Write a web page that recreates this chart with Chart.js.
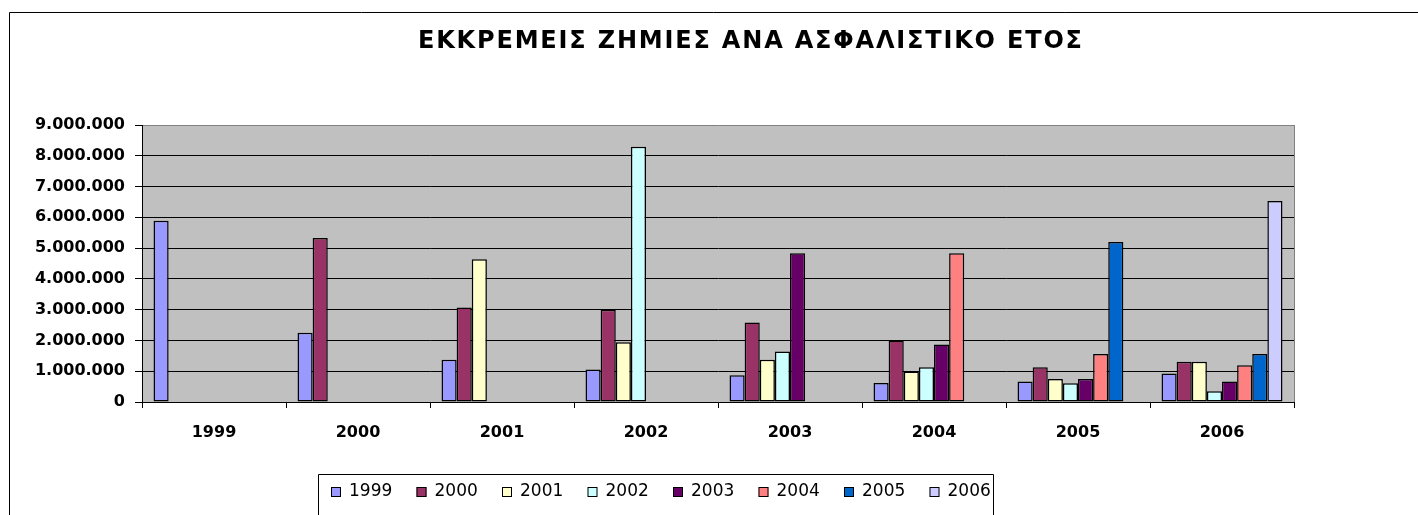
<!DOCTYPE html>
<html>
<head>
<meta charset="utf-8">
<script src="https://cdn.jsdelivr.net/npm/chart.js@4"></script>
<style>
body{margin:0;background:#fff;overflow:hidden}
#wrap{position:relative;width:1418px;height:515px}
</style>
</head>
<body>
<div id="wrap"><canvas id="mychart"></canvas></div>
<script>
const titleText = 'ΕΚΚΡΕΜΕΙΣ ΖΗΜΙΕΣ ΑΝΑ ΑΣΦΑΛΙΣΤΙΚΟ ΕΤΟΣ';
const categories = ['1999', '2000', '2001', '2002', '2003', '2004', '2005', '2006'];
const seriesNames = ['1999', '2000', '2001', '2002', '2003', '2004', '2005', '2006'];
const seriesColors = ['#9999FF', '#993366', '#FFFFCC', '#CCFFFF', '#660066', '#FF8080', '#0066CC', '#CCCCFF'];

const s1999 = [5890000, 2250000, 1375000, 1060000, 870000, 620000, 670000, 930000];
const s2000 = [null, 5330000, 3070000, 3000000, 2580000, 2000000, 1130000, 1310000];
const s2001 = [null, null, 4640000, 1940000, 1375000, 990000, 750000, 1310000];
const s2002 = [null, null, null, 8290000, 1640000, 1130000, 610000, 350000];
const s2003 = [null, null, null, null, 4830000, 1870000, 750000, 670000];
const s2004 = [null, null, null, null, null, 4830000, 1560000, 1190000];
const s2005 = [null, null, null, null, null, null, 5200000, 1560000];
const s2006 = [null, null, null, null, null, null, null, 6530000];
const seriesValues = [s1999, s2000, s2001, s2002, s2003, s2004, s2005, s2006];

const yTicks = [0, 1000000, 2000000, 3000000, 4000000, 5000000, 6000000, 7000000, 8000000, 9000000];

const FONT = "'DejaVu Sans', Arial, sans-serif";

function fmt(v) {
    return String(v).replace(/\B(?=(\d{3})+(?!\d))/g, '.');
}

// plot background, frame, title and the boxed legend, drawn like the Excel original
const excelLook = {
    id: 'excelLook',
    beforeDraw(chart) {
        const {ctx, chartArea: a} = chart;
        ctx.save();
        ctx.fillStyle = '#C0C0C0';
        ctx.fillRect(a.left, a.top, a.right - a.left, a.bottom - a.top);
        ctx.restore();
    },
    afterDraw(chart) {
        const {ctx, chartArea: a} = chart;
        ctx.save();
        // right edge of plot area
        ctx.strokeStyle = '#808080';
        ctx.lineWidth = 1;
        ctx.beginPath();
        ctx.moveTo(Math.round(a.right) + 0.5, a.top);
        ctx.lineTo(Math.round(a.right) + 0.5, a.bottom);
        ctx.stroke();

        // outer chart frame (only left and top are inside the picture)
        ctx.strokeStyle = '#000';
        ctx.beginPath();
        ctx.moveTo(9.5, chart.height);
        ctx.lineTo(9.5, 12.5);
        ctx.lineTo(chart.width, 12.5);
        ctx.stroke();

        // title
        ctx.fillStyle = '#000';
        ctx.font = 'bold 24px ' + FONT;
        ctx.letterSpacing = '0px';
        const w = ctx.measureText(titleText).width;
        ctx.letterSpacing = ((664 - w) / (titleText.length - 1)) + 'px';
        ctx.textAlign = 'left';
        ctx.textBaseline = 'middle';
        ctx.fillText(titleText, 418, 42);
        ctx.letterSpacing = '0px';

        // legend box
        ctx.strokeStyle = '#000';
        ctx.beginPath();
        ctx.moveTo(318.5, chart.height);
        ctx.lineTo(318.5, 474.5);
        ctx.lineTo(993.5, 474.5);
        ctx.lineTo(993.5, chart.height);
        ctx.stroke();
        ctx.font = '17px ' + FONT;
        chart.data.datasets.forEach((ds, i) => {
            const x = 331 + i * 85.5;
            ctx.fillStyle = ds.backgroundColor;
            ctx.fillRect(x, 487, 10, 10);
            ctx.strokeStyle = '#000';
            ctx.strokeRect(x + 0.5, 487.5, 9, 9);
            ctx.fillStyle = '#000';
            ctx.fillText(ds.label, x + 18, 492);
        });
        ctx.restore();
    }
};

const datasets = seriesNames.map((name, i) => ({
    label: name,
    data: seriesValues[i],
    backgroundColor: seriesColors[i],
    borderColor: '#000',
    borderWidth: 1.5,
    borderSkipped: false,
    categoryPercentage: 0.84,
    barPercentage: 1.0
}));

const config = {
    type: 'bar',
    data: {labels: categories, datasets: datasets},
    options: {
        responsive: true,
        maintainAspectRatio: false,
        animation: false,
        layout: {padding: {top: 125, right: 124, bottom: 73, left: 0}},
        plugins: {
            legend: {display: false},
            title: {display: false},
            tooltip: {enabled: false}
        },
        scales: {
            x: {
                afterFit(s) { s.height = 40; },
                border: {color: '#000', width: 1},
                grid: {display: true, drawOnChartArea: false, color: '#000', tickLength: 6},
                ticks: {color: '#000', padding: 15, font: {family: FONT, size: 16, weight: 'bold'}}
            },
            y: {
                min: 0,
                max: 9000000,
                afterFit(s) { s.width = 142; },
                afterBuildTicks(s) { s.ticks = yTicks.map(v => ({value: v})); },
                border: {color: '#000', width: 1},
                grid: {
                    color: c => (c.tick && c.tick.value === 9000000) ? '#808080' : '#000',
                    tickColor: '#000',
                    tickLength: 7,
                    lineWidth: 1
                },
                ticks: {
                    color: '#000',
                    padding: 10,
                    font: {family: FONT, size: 16, weight: 'bold'},
                    callback: v => fmt(v)
                }
            }
        }
    },
    plugins: [excelLook]
};

const myChart = document.querySelector('#mychart');
const barChart = new Chart(myChart, config);
</script>
</body>
</html>
